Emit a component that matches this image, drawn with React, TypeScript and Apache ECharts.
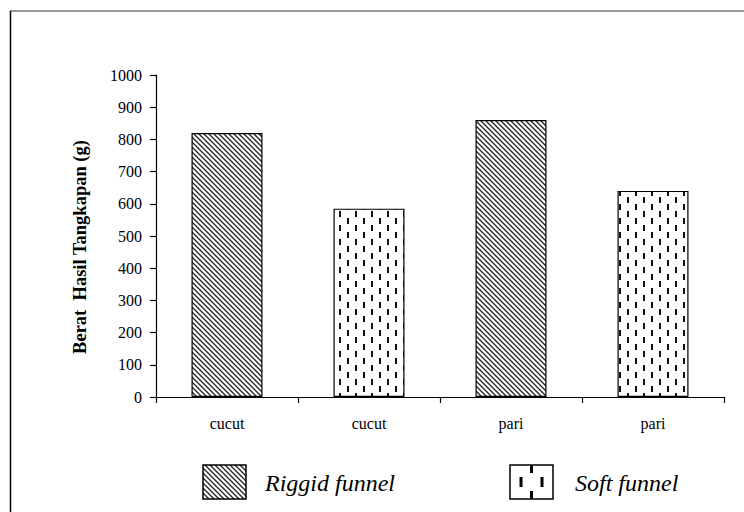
import React, { useEffect, useRef } from "react";
import * as echarts from "echarts";

const categories = ["cucut", "cucut", "pari", "pari"];
const rigidValues: (number | null)[] = [820, null, 860, null];
const softValues: (number | null)[] = [null, 585, null, 640];
const seriesNames = ["Riggid funnel", "Soft funnel"];
const yAxisName = "Berat  Hasil Tangkapan (g)";

function makeHatch(): HTMLCanvasElement {
  const s = 5;
  const c = document.createElement("canvas");
  c.width = s;
  c.height = s;
  const ctx = c.getContext("2d")!;
  ctx.fillStyle = "#fff";
  ctx.fillRect(0, 0, s, s);
  ctx.strokeStyle = "#222";
  ctx.lineWidth = 1.3;
  ctx.beginPath();
  ctx.moveTo(-1, -1);
  ctx.lineTo(s + 1, s + 1);
  ctx.moveTo(-s - 1, -1);
  ctx.lineTo(1, s + 1);
  ctx.moveTo(s - 1, -1);
  ctx.lineTo(2 * s + 1, s + 1);
  ctx.stroke();
  return c;
}

function makeDash(w: number, h: number, lw: number): HTMLCanvasElement {
  const c = document.createElement("canvas");
  c.width = w;
  c.height = h;
  const ctx = c.getContext("2d")!;
  ctx.fillStyle = "#fff";
  ctx.fillRect(0, 0, w, h);
  ctx.fillStyle = "#111";
  const dl = Math.round(h * 0.4);
  ctx.fillRect(Math.round(w * 0.25 - lw / 2), 1, lw, dl);
  ctx.fillRect(Math.round(w * 0.75 - lw / 2), Math.round(h / 2) + 1, lw, dl);
  return c;
}

export default function App() {
  const ref = useRef<HTMLDivElement>(null);
  useEffect(() => {
    if (!ref.current) return;
    const chart = echarts.init(ref.current, null, { renderer: "svg" });
    const hatch = makeHatch();
    const dash = makeDash(16, 14, 2);
    const hatchFill: any = { image: hatch, repeat: "repeat" };
    const dashFill: any = { image: dash, repeat: "repeat" };
    const font = "Liberation Serif";

    const lx = 510;
    const ly = 465;
    const legendDash = (x: number, y: number, h: number) => ({
      type: "rect",
      shape: { x: lx + x - 1.5, y: ly + y, width: 3, height: h },
      style: { fill: "#000" },
      z: 101,
    });

    chart.setOption({
      animation: false,
      backgroundColor: "#fff",
      textStyle: { fontFamily: font },
      grid: { left: 156, right: 20, top: 75, bottom: 115 },
      xAxis: {
        type: "category",
        data: categories,
        boundaryGap: true,
        axisLine: { lineStyle: { color: "#000", width: 1.2 } },
        axisTick: { show: true, length: 6, inside: false, lineStyle: { color: "#000", width: 1.2 } },
        axisLabel: { color: "#000", fontSize: 16, margin: 18, fontFamily: font },
      },
      yAxis: {
        type: "value",
        min: 0,
        max: 1000,
        interval: 100,
        name: yAxisName,
        nameLocation: "middle",
        nameRotate: 90,
        nameGap: 67,
        nameTextStyle: {
          color: "#000",
          fontSize: 18.5,
          fontWeight: "bold",
          fontFamily: font,
          padding: [0, 22, 0, 0],
        },
        axisLine: { show: true, lineStyle: { color: "#000", width: 1.2 } },
        axisTick: { show: true, length: 6, lineStyle: { color: "#000", width: 1.2 } },
        axisLabel: {
          color: "#000",
          fontSize: 16,
          margin: 14,
          fontFamily: font,
          formatter: (v: number) => String(v),
        },
        splitLine: { show: false },
      },
      series: [
        {
          name: seriesNames[0],
          type: "bar",
          data: rigidValues,
          barWidth: "50%",
          barGap: "-100%",
          itemStyle: { color: hatchFill, borderColor: "#000", borderWidth: 1.2 },
        },
        {
          name: seriesNames[1],
          type: "bar",
          data: softValues,
          barWidth: "50%",
          barGap: "-100%",
          itemStyle: { color: dashFill, borderColor: "#000", borderWidth: 1.2 },
        },
      ],
      graphic: [
        { type: "line", shape: { x1: 10, y1: 11, x2: 744, y2: 11 }, style: { stroke: "#777", lineWidth: 1.5 } },
        { type: "line", shape: { x1: 10.5, y1: 11, x2: 10.5, y2: 512 }, style: { stroke: "#000", lineWidth: 1.5 } },
        {
          type: "rect",
          shape: { x: 203, y: 465, width: 43, height: 34 },
          style: { fill: hatchFill, stroke: "#000", lineWidth: 1.5 },
        },
        {
          type: "text",
          x: 265,
          y: 483,
          style: {
            text: seriesNames[0],
            fontFamily: font,
            fontStyle: "italic",
            fontSize: 24,
            fill: "#000",
            verticalAlign: "middle",
          },
        },
        {
          type: "rect",
          shape: { x: lx, y: ly, width: 43, height: 34 },
          style: { fill: "#fff", stroke: "#000", lineWidth: 1.5 },
          z: 100,
        },
        legendDash(11, 12, 10),
        legendDash(21.5, 0, 8),
        legendDash(21.5, 26, 8),
        legendDash(32, 12, 10),
        {
          type: "text",
          x: 575,
          y: 483,
          style: {
            text: seriesNames[1],
            fontFamily: font,
            fontStyle: "italic",
            fontSize: 24,
            fill: "#000",
            verticalAlign: "middle",
          },
        },
      ],
    });
    return () => chart.dispose();
  }, []);
  return (
    <div
      ref={ref}
      style={{ position: "fixed", left: 0, top: 0, width: 744, height: 512, background: "#fff" }}
    />
  );
}
